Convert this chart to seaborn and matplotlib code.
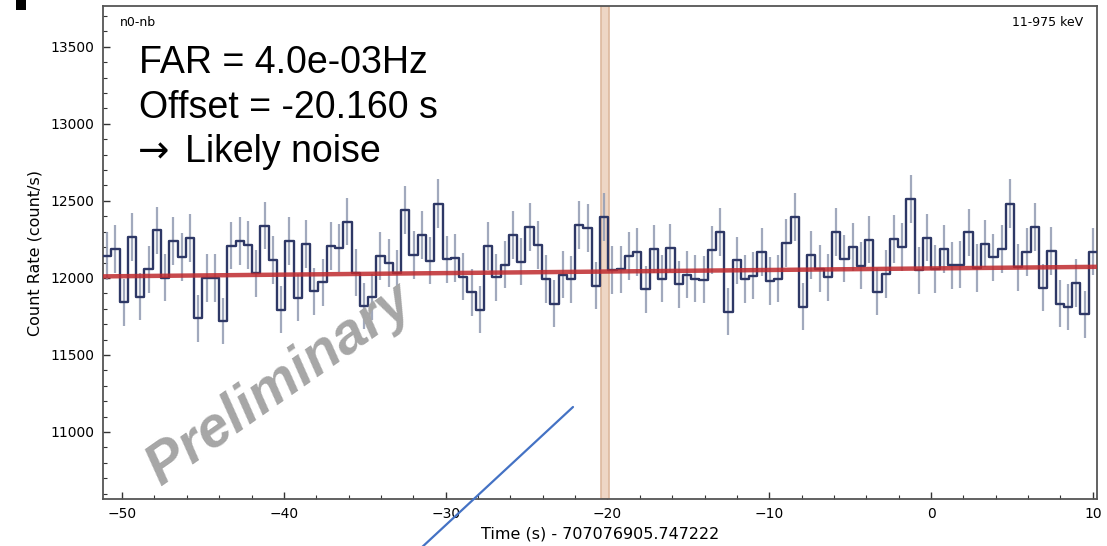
import numpy as np
import pandas as pd
import matplotlib
matplotlib.use("Agg")
import matplotlib.pyplot as plt
from matplotlib.lines import Line2D
from matplotlib.patches import Rectangle
import seaborn as sns

# ---------------- data ----------------
bin_start = -51.18          # first bin edge (s, relative to trigger time)
bin_width = 0.512           # s
rates = [
    12143, 12189, 11842, 12266, 11879, 12056, 12308, 12002, 12238, 12137,
    12258, 11738, 12000, 12000, 11720, 12210, 12240, 12214, 12030, 12340,
    12117, 11794, 12238, 11870, 12219, 11915, 11972, 12208, 12193, 12366,
    12035, 11818, 11876, 12143, 12098, 12030, 12440, 12150, 12277, 12113,
    12483, 12121, 12128, 12009, 11907, 11794, 12208, 12004, 12085, 12280,
    12106, 12332, 12214, 11993, 11833, 12020, 11991, 12345, 12323, 11948,
    12398, 12052, 12056, 12141, 12167, 11926, 12189, 11996, 12193, 11959,
    12020, 11996, 11989, 12180, 12297, 11781, 12115, 11993, 12015, 12167,
    11980, 11996, 12228, 12394, 11814, 12148, 12061, 12004, 12299, 12126,
    12202, 12080, 12249, 11911, 12026, 12251, 12202, 12514, 12050, 12262,
    12058, 12189, 12082, 12087, 12295, 12065, 12223, 12134, 12189, 12483,
    12069, 12169, 12330, 11935, 12176, 11833, 11811, 11967, 11764, 12171,
]
bkg_times = [-51.18, 10.26]
bkg_rates = [12010, 12072]
offset = -20.160
x_ticks = [-50, -40, -30, -20, -10, 0, 10]
y_ticks = [11000, 11500, 12000, 12500, 13000, 13500]
detector_label = "n0-nb"
energy_label = "11-975 keV"
xlabel = "Time (s) - 707076905.747222"
ylabel = "Count Rate (count/s)"
overlay_lines = ["FAR = 4.0e-03Hz", "Offset = -20.160 s", "Likely noise"]
arrow_char = "\u2192"
watermark = "Preliminary"

# ---------------- derived ----------------
rates_arr = np.array(rates, dtype=float)
n = len(rates_arr)
edges = bin_start + bin_width * np.arange(n + 1)
centers = edges[:-1] + bin_width / 2
rate_err = np.sqrt(rates_arr * bin_width) / bin_width   # Poisson uncertainty

step_df = pd.DataFrame({"t": edges, "rate": np.append(rates_arr, rates_arr[-1])})
bkg_df = pd.DataFrame({"t": bkg_times, "rate": bkg_rates})

# ---------------- figure ----------------
sns.set_theme(style="white")
plt.rcParams["font.family"] = ["DejaVu Sans"]
plt.rcParams["text.color"] = "black"
plt.rcParams["axes.labelcolor"] = "black"
plt.rcParams["xtick.color"] = "black"
plt.rcParams["ytick.color"] = "black"

fig = plt.figure(figsize=(11.07, 5.46), dpi=100)
ax = fig.add_axes([103 / 1107, 1 - 499 / 546, (1097 - 103) / 1107, (499 - 6) / 546])

ax.axvspan(offset - bin_width / 2, offset + bin_width / 2,
           facecolor="#eed6c5", edgecolor="#ddb89e", lw=1.2, zorder=1)

ax.vlines(centers, rates_arr - rate_err, rates_arr + rate_err,
          color="#97a0b6", lw=1.6, alpha=0.9, zorder=2)

sns.lineplot(data=step_df, x="t", y="rate", drawstyle="steps-post",
             estimator=None, sort=False, color="#2e3866", lw=1.7, ax=ax, zorder=3)

sns.lineplot(data=bkg_df, x="t", y="rate", estimator=None, sort=False,
             color="#bf2a2e", lw=3.2, alpha=0.85, ax=ax, zorder=4)

ax.set_xlim(-51.18, 10.26)
ax.set_ylim(10565, 13765)
ax.set_xticks(x_ticks)
ax.set_yticks(y_ticks)
ax.xaxis.set_minor_locator(matplotlib.ticker.MultipleLocator(2))
ax.yaxis.set_minor_locator(matplotlib.ticker.MultipleLocator(100))
ax.tick_params(axis="both", which="both", bottom=True, left=True, top=False, right=False)
ax.tick_params(axis="both", which="major", direction="in", length=5, width=1,
               labelsize=10, color="#333333", labelcolor="black", pad=6)
ax.tick_params(axis="both", which="minor", direction="in", length=3, width=0.8,
               color="#333333")
for s in ax.spines.values():
    s.set_color("#555555")
    s.set_linewidth(1.3)

ax.set_xlabel(xlabel, fontsize=11.5, labelpad=4)
ax.set_ylabel(ylabel, fontsize=11.5, labelpad=6)

ax.text(0.017, 0.967, detector_label, transform=ax.transAxes, fontsize=9,
        ha="left", va="center")
ax.text(0.986, 0.967, energy_label, transform=ax.transAxes, fontsize=9,
        ha="right", va="center")

# overlay annotation text
fig.text(139 / 1107, 1 - 73 / 546, overlay_lines[0], fontsize=27,
         family=["Liberation Sans", "DejaVu Sans"], ha="left", va="baseline")
fig.text(139 / 1107, 1 - 117.5 / 546, overlay_lines[1], fontsize=27,
         family=["Liberation Sans", "DejaVu Sans"], ha="left", va="baseline")
fig.text(138 / 1107, 1 - 162 / 546, arrow_char, fontsize=27,
         family=["DejaVu Sans"], ha="left", va="baseline")
fig.text(185 / 1107, 1 - 162 / 546, overlay_lines[2], fontsize=27,
         family=["Liberation Sans", "DejaVu Sans"], ha="left", va="baseline")

# watermark
fig.text(280 / 1107, 1 - 385 / 546, watermark, fontsize=41, fontweight="bold",
         fontstyle="italic", family=["Liberation Sans", "DejaVu Sans"],
         color="#a6a6a6", rotation=35, ha="center", va="center")

# stray pointer line and corner mark
fig.add_artist(Line2D([573 / 1107, 420 / 1107], [1 - 407 / 546, 1 - 549 / 546],
                      transform=fig.transFigure, color="#4472c4", lw=1.6,
                      clip_on=False))
fig.add_artist(Rectangle((16 / 1107, 1 - 10 / 546), 10 / 1107, 10 / 546,
                         transform=fig.transFigure, color="black", lw=0))

fig.savefig("out.png", dpi=100)
